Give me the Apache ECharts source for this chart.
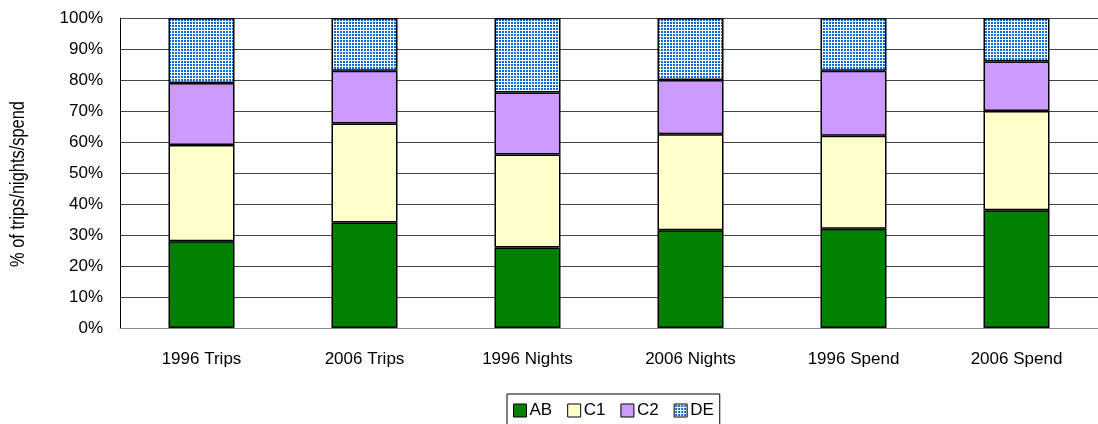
<!DOCTYPE html>
<html>
<head>
<meta charset="utf-8">
<script src="https://cdn.jsdelivr.net/npm/echarts@6/dist/echarts.min.js"></script>
<style>
html,body{margin:0;padding:0;background:#fff;}
#chart{width:1098px;height:424px;}
</style>
</head>
<body>
<div id="chart"></div>
<script>
const categories = ['1996 Trips', '2006 Trips', '1996 Nights', '2006 Nights', '1996 Spend', '2006 Spend'];
const AB = [28, 34, 26, 31.5, 32, 38];
const C1 = [31, 32, 30, 31, 30, 32];
const C2 = [20, 17, 20, 17.5, 21, 16];
const DE = [21, 17, 24, 20, 17, 14];
const yTicks = [0, 10, 20, 30, 40, 50, 60, 70, 80, 90, 100];
const yAxisTitle = '% of trips/nights/spend';

const FONT = "'Liberation Sans', Arial, sans-serif";

// checkered blue pattern for DE
const tile = document.createElement('canvas');
tile.width = 3; tile.height = 3;
const tc = tile.getContext('2d');
tc.fillStyle = '#ffffff';
tc.fillRect(0, 0, 3, 3);
tc.fillStyle = '#0a6ad8';
tc.fillRect(1, 1, 2, 2);

const chart = echarts.init(document.getElementById('chart'), null, {renderer: 'canvas'});
const border = {borderColor: '#000', borderWidth: 1.5};
function mk(name, data, color) {
  return {
    name: name, type: 'bar', stack: 'total', data: data, barWidth: 66,
    itemStyle: Object.assign({color: color}, border),
    emphasis: {disabled: true}
  };
}
chart.setOption({
  animation: false,
  textStyle: {fontFamily: FONT},
  grid: {left: 120, top: 18, right: -7, bottom: 96, containLabel: false},
  xAxis: {
    type: 'category', data: categories,
    axisLine: {lineStyle: {color: '#888', width: 1}},
    axisTick: {show: false},
    axisLabel: {color: '#000', fontSize: 17, fontFamily: FONT, margin: 23}
  },
  yAxis: {
    type: 'value', min: 0, max: 100, interval: 10,
    axisLine: {show: true, lineStyle: {color: '#000', width: 1}},
    axisTick: {show: false},
    splitLine: {show: true, lineStyle: {color: '#444', width: 1}},
    axisLabel: {
      color: '#000', fontSize: 17, fontFamily: FONT, margin: 17,
      formatter: function (v) { return yTicks.indexOf(v) >= 0 ? v + '%' : ''; }
    }
  },
  legend: {
    left: 507, top: 394,
    padding: [8, 6, 8, 6],
    borderColor: '#000', borderWidth: 1,
    itemWidth: 13, itemHeight: 13, itemGap: 15,
    icon: 'rect',
    itemStyle: {borderColor: '#000', borderWidth: 1},
    textStyle: {color: '#000', fontSize: 17, fontFamily: FONT, padding: [0, 0, 0, -2]},
    data: ['AB', 'C1', 'C2', 'DE']
  },
  graphic: [{
    type: 'text', x: 18, y: 184, rotation: Math.PI / 2, scaleX: 0.82,
    style: {text: yAxisTitle, fill: '#000', font: '20px ' + FONT, align: 'center', verticalAlign: 'middle'}
  }],
  series: [
    mk('AB', AB, '#008000'),
    mk('C1', C1, '#FFFFCC'),
    mk('C2', C2, '#CC99FF'),
    mk('DE', DE, {image: tile, repeat: 'repeat'})
  ]
});
</script>
</body>
</html>
